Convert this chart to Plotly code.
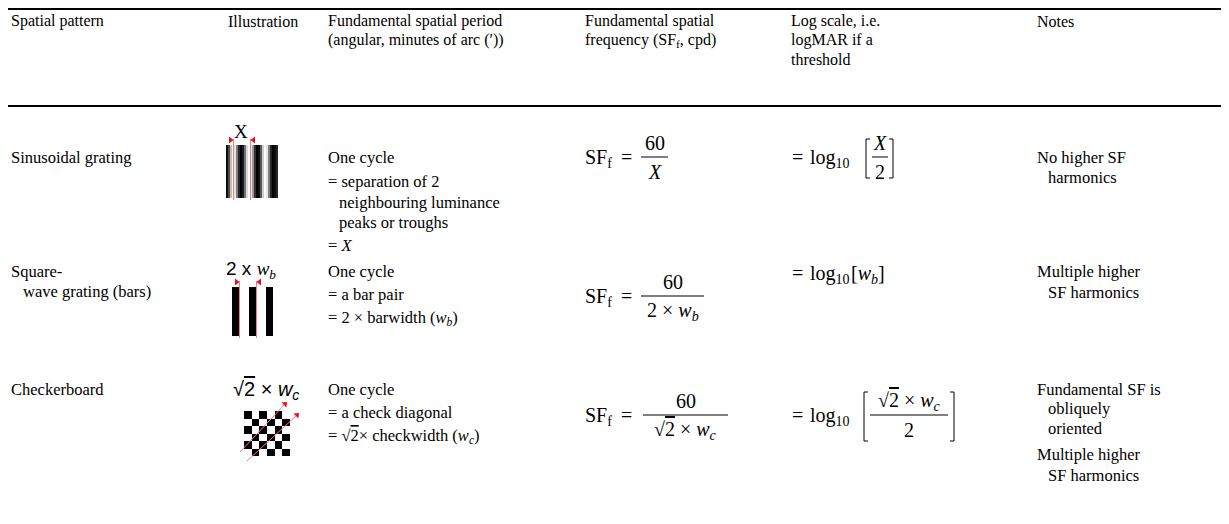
import plotly.graph_objects as go

SERIF = "Liberation Serif"
SANS = "Liberation Sans"
FS = 16     # header text
BFS = 16.5  # body text
MFS = 20    # formula text

# table text
header_cells = [
    ["Spatial pattern"],
    ["Illustration"],
    ["Fundamental spatial period", "(angular, minutes of arc (′))"],
    ["Fundamental spatial", "frequency (SF<sub>f</sub>, cpd)"],
    ["Log scale, i.e.", "logMAR if a", "threshold"],
    ["Notes"],
]
pattern_names = [
    ["Sinusoidal grating"],
    ["Square-", "wave grating (bars)"],
    ["Checkerboard"],
]
ROOT2 = "√<span style='text-decoration:overline'>2</span>"
period_text = [
    ["One cycle", "= separation of 2", "neighbouring luminance", "peaks or troughs", "= <i>X</i>"],
    ["One cycle", "= a bar pair", "= 2 × barwidth (<i>w<sub>b</sub></i>)"],
    ["One cycle", "= a check diagonal", "= " + ROOT2 + "× checkwidth (<i>w<sub>c</sub></i>)"],
]
notes_text = [
    ["No higher SF", "harmonics"],
    ["Multiple higher", "SF harmonics"],
    ["Fundamental SF is", "obliquely", "oriented", "Multiple higher", "SF harmonics"],
]
illus_labels = ["X",
                "2 x <span style='font-family:Liberation Serif'><i>w<sub>b</sub></i></span>",
                ROOT2 + " × <i>w<sub>c</sub></i>"]

# formulas: SF_f = 60 / denominator, log10[num/den]
sf_numer = ["60", "60", "60"]
sf_denom = ["<i>X</i>", "2 × <i>w<sub>b</sub></i>", ROOT2 + " × <i>w<sub>c</sub></i>"]
log_numer = ["<i>X</i>", None, ROOT2 + " × <i>w<sub>c</sub></i>"]
log_denom = ["2", None, "2"]
log_plain = [None, "[<i>w<sub>b</sub></i>]", None]

# illustration data (luminance 0 = black, 1 = white)
sine_lum = [0.05, 0.3, 0.75, 1.0, 0.9, 0.5, 0.15, 0.0, 0.1, 0.45, 0.85, 1.0, 0.95,
            0.6, 0.2, 0.0, 0.05, 0.35, 0.8, 1.0, 0.9, 0.5, 0.15, 0.0, 0.05, 0.15]
bar_lum = [0, 1, 0, 1, 0]
checker_lum = [
    [0, 1, 0, 1, 0, 1],
    [1, 0, 1, 0, 1, 0],
    [0, 1, 0, 1, 0, 1],
    [1, 0, 1, 0, 1, 0],
    [0, 1, 0, 1, 0, 1],
    [1, 0, 1, 0, 1, 0],
]

# layout (screen pixels)
col_x = [9, 226, 326, 583, 789, 1035]
indent = 11
header_y = [21, 40, 59]
rule_y = [9, 106]
name_y = [[157], [271, 291], [389]]
period_y = [[157, 181, 202, 222, 245], [271, 294, 318], [389, 412, 436]]
period_indent = [[0, 0, 1, 1, 0], [0, 0, 0], [0, 0, 0]]
notes_y = [[157, 177], [271, 292], [389, 408, 428, 454, 475]]
notes_indent = [[0, 1], [0, 1], [0, 1, 1, 0, 1]]
label_pos = [(241, 131), (251, 270), (266, 390)]

fig = go.Figure()
ann = []


def text(x, y, s, anchor="left", size=BFS, family=SERIF):
    ann.append(dict(x=x, y=y, text=s, showarrow=False, xanchor=anchor, yanchor="middle",
                    font=dict(family=family, size=size, color="black")))


def seg(xs, ys, color="black", width=1):
    fig.add_trace(go.Scatter(x=xs, y=ys, mode="lines", line=dict(color=color, width=width),
                             hoverinfo="skip", showlegend=False))


# header
for c, lines in enumerate(header_cells):
    for i, s in enumerate(lines):
        text(col_x[c], header_y[i], s, size=FS)

# body columns 1, 3, 6
for r in range(3):
    for i, s in enumerate(pattern_names[r]):
        text(col_x[0] + (12 if i else 0), name_y[r][i], s)
    for i, s in enumerate(period_text[r]):
        text(col_x[2] + indent * period_indent[r][i], period_y[r][i], s)
    for i, s in enumerate(notes_text[r]):
        text(col_x[5] + indent * notes_indent[r][i], notes_y[r][i], s)

# illustration labels
text(label_pos[0][0], label_pos[0][1], illus_labels[0], anchor="center", size=19)
text(label_pos[1][0], label_pos[1][1], illus_labels[1], anchor="center", size=19, family=SANS)
text(label_pos[2][0], label_pos[2][1], illus_labels[2], anchor="center", size=20, family=SANS)

# formulas column 4 and 5
sf_y = [157, 296, 415]
sf_bar = [(641, 668), (641, 704), (643, 728)]
log_bar = [(872, 888), None, (870, 948)]
log_brk = [(866, 893, 139, 178), None, (864, 954, 392, 441)]
log_y = [157, 273, 415]
for r in range(3):
    y = sf_y[r]
    text(col_x[3], y + 1, "SF<sub>f</sub>", size=MFS)
    text(626, y, "=", anchor="center", size=MFS)
    x0, x1 = sf_bar[r]
    seg([x0, x1], [y, y])
    text((x0 + x1) / 2, y - 14, sf_numer[r], anchor="center", size=MFS)
    text((x0 + x1) / 2, y + 15, sf_denom[r], anchor="center", size=MFS)
    ly = log_y[r]
    text(col_x[4] + 8, ly, "=", anchor="center", size=MFS)
    text(col_x[4] + 19, ly + 1, "log<sub>10</sub>", size=MFS)
    if log_plain[r]:
        text(col_x[4] + 60, ly + 1, log_plain[r], size=MFS)
        continue
    bx0, bx1, by0, by1 = log_brk[r]
    seg([bx0 + 4, bx0, bx0, bx0 + 4], [by0, by0, by1, by1])
    seg([bx1 - 4, bx1, bx1, bx1 - 4], [by0, by0, by1, by1])
    lx0, lx1 = log_bar[r]
    seg([lx0, lx1], [y, y])
    text((lx0 + lx1) / 2, y - 14, log_numer[r], anchor="center", size=MFS)
    text((lx0 + lx1) / 2, y + 15, log_denom[r], anchor="center", size=MFS)

gray = [[0, "black"], [1, "white"]]
# sinusoidal grating
sine_x = [226 + 2 * i for i in range(len(sine_lum) + 1)]
fig.add_trace(go.Heatmap(z=[sine_lum], x=sine_x, y=[145, 198], colorscale=gray, zmin=0, zmax=1,
                         showscale=False, hoverinfo="skip"))
# square-wave bars
fig.add_trace(go.Heatmap(z=[bar_lum], x=[232, 239, 249, 256, 266, 273], y=[287, 336], colorscale=gray,
                         zmin=0, zmax=1, showscale=False, hoverinfo="skip"))
# checkerboard
fig.add_trace(go.Heatmap(z=checker_lum, x=[244 + 7.7 * i for i in range(7)],
                         y=[411 + 7.5 * i for i in range(7)],
                         colorscale=gray, zmin=0, zmax=1, showscale=False, hoverinfo="skip"))

RED = "#ff7878"
# period markers
for xs, y0, y1 in [((233.5, 250.5), 139, 200), ((239.5, 256.5), 281, 338)]:
    for x in xs:
        seg([x, x], [y0, y1], color=RED, width=1)
    fig.add_trace(go.Scatter(x=[xs[0] - 3, xs[1] + 3], y=[y0 + 1, y0 + 1], mode="markers",
                             marker=dict(symbol=["triangle-right", "triangle-left"], size=6, color="#e8101a"),
                             hoverinfo="skip", showlegend=False))
for (xa, ya), (xb, yb) in [((240, 452), (285, 404)), ((247, 461), (297, 415))]:
    seg([xa, xb], [ya, yb], color=RED, width=1)
    fig.add_trace(go.Scatter(x=[xb], y=[yb], mode="markers",
                             marker=dict(symbol="triangle-up", angle=45, size=6, color="#e8101a"),
                             hoverinfo="skip", showlegend=False))

shapes = [dict(type="line", x0=8, x1=1229, y0=yy, y1=yy, line=dict(color="black", width=2))
          for yy in rule_y]

# the page body adds an 8px margin, so the axes start at screen pixel 8
fig.update_layout(
    width=1221, height=516,
    margin=dict(l=0, r=0, t=0, b=0),
    paper_bgcolor="white", plot_bgcolor="white",
    xaxis=dict(range=[8, 1229], visible=False, fixedrange=True),
    yaxis=dict(range=[524, 8], visible=False, fixedrange=True),
    annotations=ann, shapes=shapes, showlegend=False,
)
fig.write_html("out.html")
